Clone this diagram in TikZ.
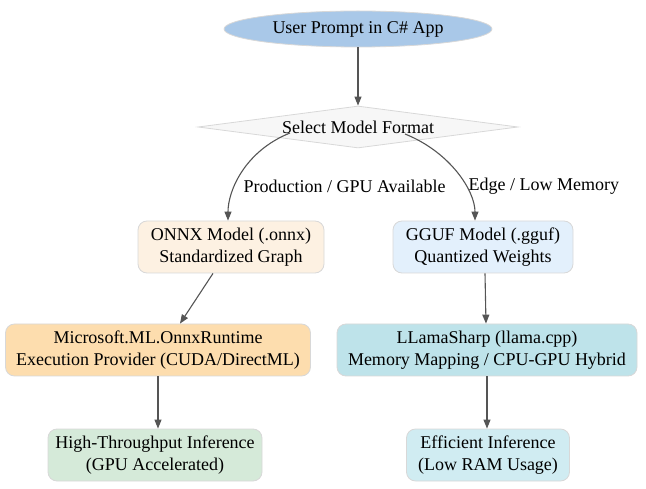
\documentclass[tikz,border=0pt]{standalone}
\usepackage{fontspec}
\setmainfont{Liberation Serif}
\usetikzlibrary{shapes.geometric,arrows.meta}
\definecolor{bd}{HTML}{D8D8D8}
\definecolor{ar}{HTML}{555555}
\definecolor{cu}{RGB}{169,200,232}
\definecolor{co}{RGB}{253,241,226}
\definecolor{cg}{RGB}{227,240,252}
\definecolor{cm}{RGB}{253,221,174}
\definecolor{cl}{RGB}{190,227,234}
\definecolor{ch}{RGB}{213,234,217}
\definecolor{ce}{RGB}{208,236,242}
\begin{document}
\begin{tikzpicture}[x=1pt,y=-1pt,
  every node/.style={font=\fontsize{18}{22}\selectfont, align=center, text=black},
  box/.style={rectangle, rounded corners=9pt, draw=bd, line width=0.8pt, minimum height=52pt, inner sep=2pt},
  arr/.style={-{Triangle[length=9pt,width=7pt]}, draw=ar, line width=1.1pt},
  lab/.style={font=\fontsize{18}{22}\selectfont}]
\useasboundingbox (0,0) rectangle (646,489);
\node[ellipse, draw=bd, fill=cu, inner sep=1pt, minimum width=268pt, minimum height=36pt, line width=0.8pt] (u) at (358,29) {User Prompt in C\# App};
\node[diamond, aspect=12, draw=bd, fill=black!3, inner sep=0pt, minimum width=320pt, minimum height=42pt, line width=0.8pt] (s) at (358,127) {Select Model Format};
\node[box, fill=co, minimum width=186pt] (o) at (231,247) {ONNX Model (.onnx)\\Standardized Graph};
\node[box, fill=cg, minimum width=180pt] (g) at (483,247) {GGUF Model (.gguf)\\Quantized Weights};
\node[box, fill=cm, minimum width=305pt] (m) at (158,350) {Microsoft.ML.OnnxRuntime\\Execution Provider (CUDA/DirectML)};
\node[box, fill=cl, minimum width=300pt] (l) at (487,350) {LLamaSharp (llama.cpp)\\Memory Mapping / CPU-GPU Hybrid};
\node[box, fill=ch, minimum width=214pt] (h) at (155,455) {High-Throughput Inference\\(GPU Accelerated)};
\node[box, fill=ce, minimum width=163pt] (e) at (488,455) {Efficient Inference\\(Low RAM Usage)};
\draw[arr] (u) -- (s);
\draw[arr] ([xshift=-68pt,yshift=-6pt]s.center) .. controls +(-45,18) and +(0,-30) .. ([xshift=-3pt]o.north);
\draw[arr] ([xshift=47pt,yshift=-7pt]s.center) .. controls +(45,18) and +(0,-30) .. ([xshift=-8pt]g.north);
\node[lab, anchor=west] at (240,186) {Production / GPU Available};
\node[lab, anchor=west] at (465,186) {Edge / Low Memory};
\draw[arr] ([xshift=-18pt]o.south) -- ([xshift=22pt]m.north);
\draw[arr] ([xshift=2pt]g.south) -- ([xshift=-1pt]l.north);
\draw[arr] (m.south) -- ([xshift=3pt]h.north);
\draw[arr] (l.south) -- ([xshift=-1pt]e.north);
\end{tikzpicture}
\end{document}
